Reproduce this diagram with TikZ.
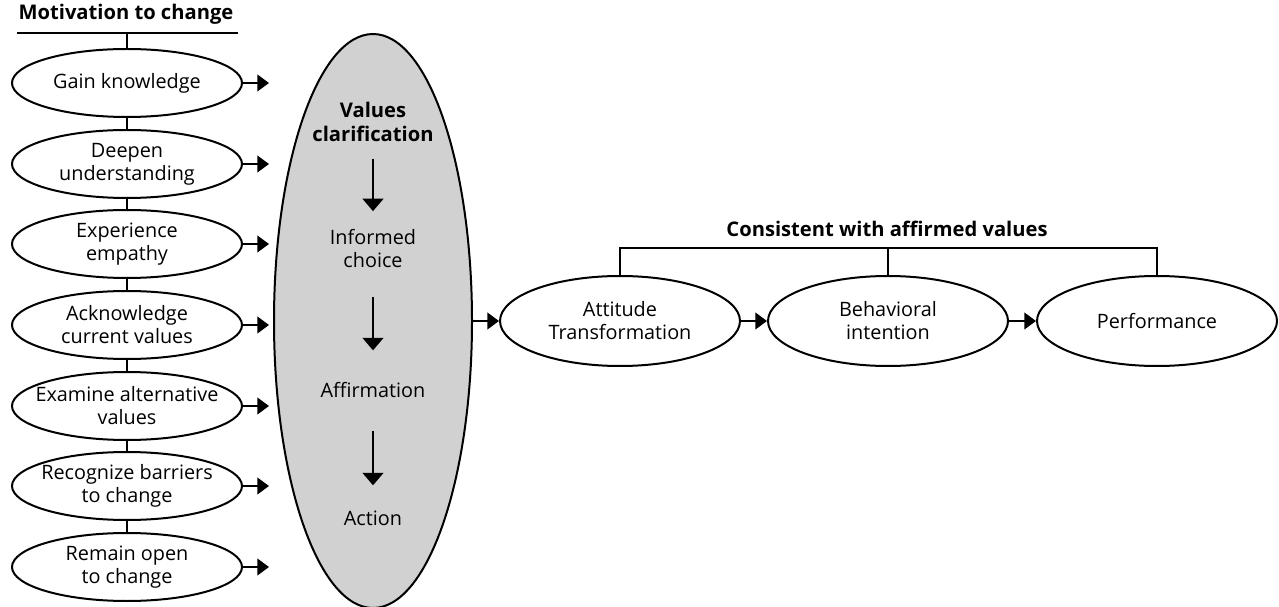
\documentclass[tikz,border=0pt]{standalone}
\usepackage{fontspec}
\setmainfont{Open Sans}
\usetikzlibrary{shapes.geometric,arrows.meta}

\begin{document}
\begin{tikzpicture}[x=0.6pt, y=-0.6pt,
  txt/.style={font=\fontsize{11.9}{13.8}\selectfont, align=center, inner sep=0},
  hd/.style={font=\fontsize{12.1}{14.4}\selectfont\bfseries, align=center, inner sep=0},
  link/.style={line width=1.2pt},
  arr/.style={link, -{Triangle[length=7pt, width=10pt]}},
  darr/.style={link, -{Triangle[length=7.5pt, width=12.5pt]}}]
\useasboundingbox (0,0) rectangle (1279,607);
\def\ring{node [ellipse, draw, line width=1.2pt, inner sep=0, minimum width=138pt, minimum height=40.8pt] }
\def\widering{node [ellipse, draw, line width=1.2pt, inner sep=0, minimum width=144pt, minimum height=54pt] }
\def\bigring{node [ellipse, draw, fill=black!18, line width=1.2pt, inner sep=0, minimum width=118.8pt, minimum height=344.4pt] }

% motivation column
\node [hd, anchor=base] (mot) at (126,20) {Motivation to change};
\coordinate (ml) at (17,33);
\coordinate (mr) at (238,33);
\coordinate (mc) at (127,33);

\draw (127,83) \ring (gk) {};
\draw (127,164) \ring (du) {};
\draw (127,244) \ring (ee) {};
\draw (127,325) \ring (ac) {};
\draw (127,406) \ring (ea) {};
\draw (127,486) \ring (rb) {};
\draw (127,567) \ring (ro) {};

\node [txt] (gkt) at (gk) {Gain knowledge};
\node [txt] (dut) at (du) {Deepen\\understanding};
\node [txt] (eet) at (ee) {Experience\\empathy};
\node [txt] (act) at (ac) {Acknowledge\\current values};
\node [txt] (eat) at (ea) {Examine alternative\\values};
\node [txt] (rbt) at (rb) {Recognize barriers\\to change};
\node [txt] (rot) at (ro) {Remain open\\to change};

\draw [link] (ml) -- (mr);
\draw [link] (mc) -- (gk.north);
\draw [link] (gk) -- (du);
\draw [link] (du) -- (ee);
\draw [link] (ee) -- (ac);
\draw [link] (ac) -- (ea);
\draw [link] (ea) -- (rb);
\draw [link] (rb) -- (ro);

\coordinate (t1) at (269,83);
\coordinate (t2) at (269,164);
\coordinate (t3) at (269,244);
\coordinate (t4) at (269,325);
\coordinate (t5) at (269,406);
\coordinate (t6) at (269,486);
\coordinate (t7) at (269,567);

\draw [arr] (gk) -- (t1);
\draw [arr] (du) -- (t2);
\draw [arr] (ee) -- (t3);
\draw [arr] (ac) -- (t4);
\draw [arr] (ea) -- (t5);
\draw [arr] (rb) -- (t6);
\draw [arr] (ro) -- (t7);

% values clarification
\draw (373,321) \bigring (vc) {};

\node [hd] (vcl) at (373,122) {Values\\clarification};
\node [txt] (ich) at (373,249) {Informed\\choice};
\node [txt] (aff) at (373,390) {Affirmation};
\node [txt] (acn) at (373,518) {Action};

\draw [darr, shorten <=10pt, shorten >=11pt] (vcl) -- (ich);
\draw [darr, shorten <=17pt, shorten >=19pt] (ich) -- (aff);
\draw [darr, shorten <=20pt, shorten >=15pt] (aff) -- (acn);

% outcome row
\draw (620,321) \widering (att) {};
\draw (888,321) \widering (beh) {};
\draw (1157,321) \widering (perf) {};

\node [txt] (attt) at (att) {Attitude\\Transformation};
\node [txt] (beht) at (beh) {Behavioral\\intention};
\node [txt] (perft) at (perf) {Performance};

\draw [arr] (vc) -- (att);
\draw [arr] (att) -- (beh);
\draw [arr] (beh) -- (perf);

\node [hd, anchor=base] (cav) at (887,237) {Consistent with affirmed values};
\coordinate (cb) at (888,248);
\draw [link] (att.north) |- (cb) -| (perf.north);
\draw [link] (beh.north) -- (cb);
\end{tikzpicture}
\end{document}
